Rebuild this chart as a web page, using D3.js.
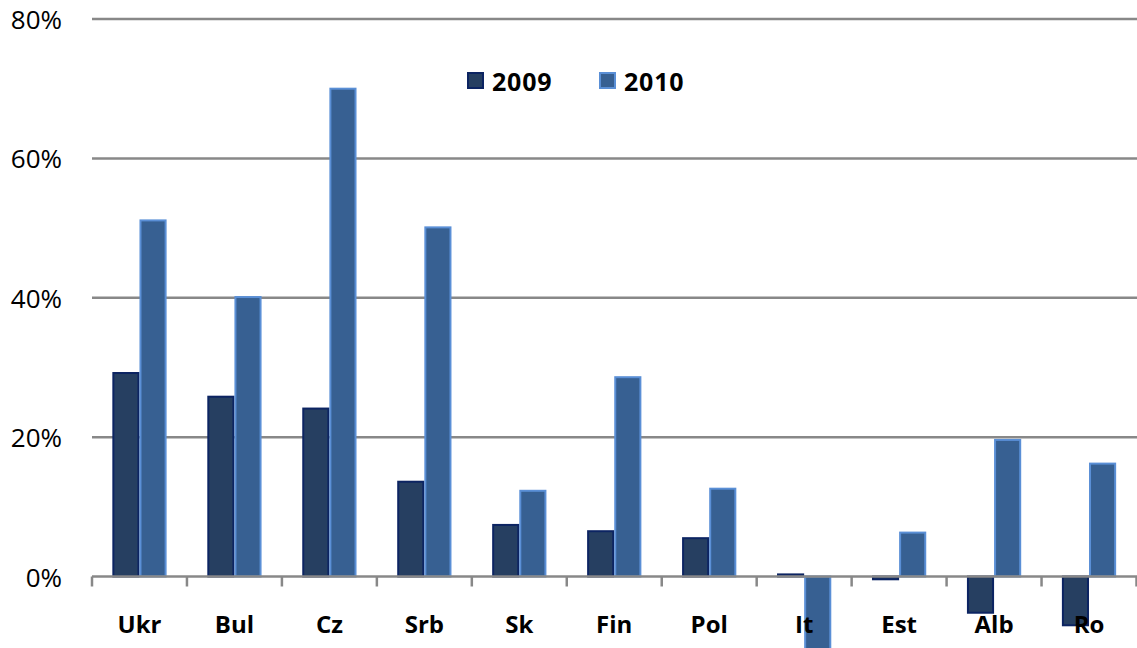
<!DOCTYPE html>
<html>
<head>
<meta charset="utf-8">
<script src="https://cdn.jsdelivr.net/npm/d3@7"></script>
<style>
  html, body { margin: 0; padding: 0; background: #fff; }
  svg { display: block; }
</style>
</head>
<body>
<svg id="chart" width="1137" height="648"></svg>
<script>
// Year-on-year change by country, 2009 and 2010
const categories = ["Ukr", "Bul", "Cz", "Srb", "Sk", "Fin", "Pol", "It", "Est", "Alb", "Ro"];
const seriesNames = ["2009", "2010"];
const values2009 = [29.2, 25.8, 24.1, 13.6, 7.4, 6.5, 5.5, 0.3, -0.4, -5.2, -7.0];
const values2010 = [51.1, 40.1, 70.0, 50.1, 12.3, 28.6, 12.6, -10.6, 6.3, 19.6, 16.2];
const yTicks = [0, 20, 40, 60, 80];

const fills = { "2009": "#263f61", "2010": "#376092" };
const strokes = { "2009": "#0c2462", "2010": "#5a8fd6" };

const svg = d3.select("#chart");
const left = 92, right = 1137, axisRight = 1136.5;
const y0 = 576.5, yTop = 19;

const x0 = d3.scaleBand().domain(categories).range([left, axisRight]).padding(0);
const x1 = d3.scaleBand().domain(seriesNames).range([0, x0.bandwidth()])
  .paddingInner(0).paddingOuter(0.75);
const y = d3.scaleLinear().domain([0, 80]).range([y0, yTop]);

const rows = categories.map((c, i) => ({ cat: c, vals: { "2009": values2009[i], "2010": values2010[i] } }));

// horizontal gridlines
svg.append("g").selectAll("line").data(yTicks.filter(t => t !== 0)).join("line")
  .attr("x1", left).attr("x2", right)
  .attr("y1", d => y(d)).attr("y2", d => y(d))
  .attr("stroke", "#888888").attr("stroke-width", 2.5);

// y-axis labels
svg.append("g").selectAll("text").data(yTicks).join("text")
  .attr("x", 62).attr("y", d => y(d))
  .attr("text-anchor", "end").attr("dominant-baseline", "central")
  .attr("font-family", "'Open Sans', sans-serif").attr("font-size", 26)
  .attr("fill", "#000")
  .text(d => d + "%");

// bars
const groups = svg.append("g").selectAll("g").data(rows).join("g")
  .attr("transform", d => `translate(${x0(d.cat)},0)`);
groups.selectAll("rect").data(d => seriesNames.map(s => ({ s, v: d.vals[s] }))).join("rect")
  .attr("x", d => x1(d.s) + 1)
  .attr("width", x1.bandwidth() - 2)
  .attr("y", d => Math.min(y(d.v), y(0)))
  .attr("height", d => Math.abs(y(d.v) - y(0)))
  .attr("fill", d => fills[d.s])
  .attr("stroke", d => strokes[d.s])
  .attr("stroke-width", 2);

// zero axis with category tick marks
const axis = svg.append("g");
axis.append("line")
  .attr("x1", left).attr("x2", right).attr("y1", y0).attr("y2", y0)
  .attr("stroke", "#888888").attr("stroke-width", 2.5);
const boundaries = categories.map(c => x0(c)).concat([axisRight]);
axis.selectAll("line.tick").data(boundaries).join("line")
  .attr("class", "tick")
  .attr("x1", d => d).attr("x2", d => d)
  .attr("y1", y0).attr("y2", y0 + 10)
  .attr("stroke", "#888888").attr("stroke-width", 2.5);

// category labels
svg.append("g").selectAll("text").data(categories).join("text")
  .attr("x", d => x0(d) + x0.bandwidth() / 2)
  .attr("y", 623)
  .attr("text-anchor", "middle").attr("dominant-baseline", "central")
  .attr("font-family", "'Open Sans', sans-serif").attr("font-weight", "bold")
  .attr("font-size", 24).attr("fill", "#000")
  .text(d => d);

// legend
const legendPos = [{ s: "2009", x: 467 }, { s: "2010", x: 599 }];
const legend = svg.append("g").selectAll("g").data(legendPos).join("g")
  .attr("transform", d => `translate(${d.x},72)`);
legend.append("rect")
  .attr("x", 1).attr("y", 1).attr("width", 15).attr("height", 15)
  .attr("fill", d => fills[d.s]).attr("stroke", d => strokes[d.s]).attr("stroke-width", 2);
legend.append("text")
  .attr("x", 25).attr("y", 8.5)
  .attr("dominant-baseline", "central")
  .attr("font-family", "'Open Sans', sans-serif").attr("font-weight", "bold")
  .attr("font-size", 25).attr("letter-spacing", 0.8).attr("fill", "#000")
  .text(d => d.s);
</script>
</body>
</html>
